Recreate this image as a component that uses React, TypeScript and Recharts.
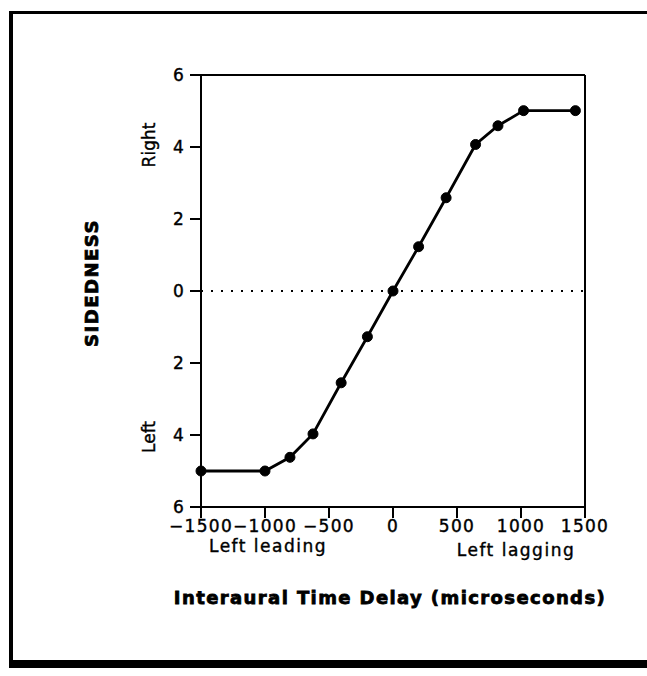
import { CSSProperties } from "react";
import {
  Line,
  LineChart,
  ReferenceLine,
  XAxis,
  YAxis,
} from "recharts";

// interaural time delay (microseconds)
const delays = [-1500, -1000, -805, -625, -405, -200, 0, 200, 415, 645, 820, 1020, 1425];
// sidedness, positive = right, negative = left
const sidedness = [-5, -5, -4.62, -3.97, -2.55, -1.27, 0, 1.23, 2.59, 4.07, 4.59, 5.01, 5.01];

const xTicks = [-1500, -1000, -500, 0, 500, 1000, 1500];
const yTicks = [-6, -4, -2, 0, 2, 4, 6];

const data = delays.map((d, i) => ({ delay: d, side: sidedness[i] }));

const FONT = "'DejaVu Sans', sans-serif";

function Txt({
  x,
  y,
  children,
  rotate,
  style,
}: {
  x: number;
  y: number;
  children: string;
  rotate?: boolean;
  style?: CSSProperties;
}) {
  return (
    <div
      style={{
        position: "absolute",
        left: x,
        top: y,
        transform: `translate(-50%, -50%)${rotate ? " rotate(-90deg)" : ""}`,
        whiteSpace: "nowrap",
        lineHeight: 1,
        fontFamily: FONT,
        fontSize: 17,
        color: "#000",
        WebkitTextStroke: "0.4px #000",
        ...style,
      }}
    >
      {children}
    </div>
  );
}

export default function App() {
  const tickStyle = {
    fontSize: 17,
    fill: "#000",
    fontFamily: FONT,
    letterSpacing: 1.3,
    stroke: "#000",
    strokeWidth: 0.4,
  };
  return (
    <div
      style={{
        position: "absolute",
        left: 0,
        top: 0,
        width: 647,
        height: 676,
        background: "#fff",
        overflow: "hidden",
      }}
    >
      {/* page frame, open on the right */}
      <div
        style={{
          position: "absolute",
          left: 9,
          top: 11,
          width: 660,
          height: 657,
          borderLeft: "4px solid #000",
          borderTop: "3px solid #000",
          borderBottom: "8px solid #000",
          boxSizing: "border-box",
        }}
      />
      <LineChart
        width={647}
        height={676}
        data={data}
        margin={{ top: 75, right: 62, bottom: 139, left: 141 }}
        style={{ position: "absolute", left: 0, top: 0 }}
      >
        <XAxis
          dataKey="delay"
          type="number"
          domain={[-1500, 1500]}
          ticks={xTicks}
          height={30}
          tickSize={11}
          tickMargin={2}
          stroke="#000"
          strokeWidth={2}
          tick={tickStyle}
          tickFormatter={(v: number) => (v < 0 ? `\u2212${-v}` : `${v}`)}
        />
        <YAxis
          dataKey="side"
          type="number"
          domain={[-6, 6]}
          ticks={yTicks}
          width={60}
          tickSize={11}
          tickMargin={5}
          stroke="#000"
          strokeWidth={2}
          tick={tickStyle}
          tickFormatter={(v: number) => `${Math.abs(v)}`}
        />
        <ReferenceLine y={6} stroke="#000" strokeWidth={2} />
        <ReferenceLine x={1500} stroke="#000" strokeWidth={2} />
        <ReferenceLine y={0} stroke="#000" strokeWidth={2} strokeDasharray="2 8" />
        <Line
          type="linear"
          dataKey="side"
          stroke="#000"
          strokeWidth={2.8}
          dot={{ r: 5, fill: "#000", stroke: "#000", strokeWidth: 1 }}
          isAnimationActive={false}
        />
      </LineChart>
      <Txt x={149} y={145} rotate>Right</Txt>
      <Txt x={149} y={437} rotate>Left</Txt>
      <Txt
        x={92}
        y={283}
        rotate
        style={{ fontWeight: 900, fontSize: 18, letterSpacing: 1.5, WebkitTextStroke: "0.8px #000" }}
      >
        SIDEDNESS
      </Txt>
      <Txt x={268} y={546} style={{ letterSpacing: 1.5 }}>Left leading</Txt>
      <Txt x={516} y={550} style={{ letterSpacing: 1.5 }}>Left lagging</Txt>
      <Txt
        x={390}
        y={598}
        style={{ fontWeight: 900, fontSize: 18, letterSpacing: 1.4, WebkitTextStroke: "0.8px #000" }}
      >
        Interaural Time Delay (microseconds)
      </Txt>
    </div>
  );
}
